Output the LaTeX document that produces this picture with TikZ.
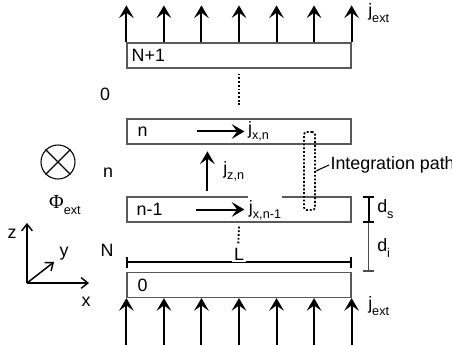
\documentclass[tikz,border=0pt]{standalone}
\usepackage{fontspec}
\setmainfont{Liberation Sans}
\newfontfamily\greekfont{Liberation Serif}
\usetikzlibrary{arrows.meta,positioning,calc}

% lowered index in small type
\newcommand{\lowtxt}[1]{\raisebox{-0.55ex}{\fontsize{9.5}{9.5}\selectfont #1}}

\tikzset{
  slab/.style={draw=black!65, line width=0.9pt, minimum width=168pt, minimum height=18.75pt, inner sep=0pt},
  curr/.style={line width=1.5pt, -{Stealth[length=9.5pt,width=11pt,inset=4pt]}},
  axis/.style={line width=1.1pt, -{Straight Barb[length=5pt,width=8pt]}},
  dotline/.style={line width=1.4pt, dash pattern=on 1.4pt off 1.4pt},
  dimbar/.style={line width=1.5pt, {Bar[width=8pt]}-{Bar[width=8pt]}},
  lbl/.style={inner sep=0pt}
}

\begin{document}
\begin{tikzpicture}[x=0.75pt,y=-0.75pt,font=\fontsize{13.4}{16}\selectfont]
\useasboundingbox (0,0) rectangle (452,345);

% layers
\node[slab] (top) at (239,55.5) {};
\node[slab] (sn) at (239,131.5) {};
\node[slab] (snm) at (239,209.5) {};
\node[slab] (bot) at (239,285) {};

\node[lbl, anchor=west] (ltop) at ($(top.west)+(5,0)$) {N+1};
\node[lbl, anchor=west] (ln) at ($(sn.west)+(11,0)$) {n};
\node[lbl, anchor=west] (lnm) at ($(snm.west)+(10,0)$) {n-1};
\node[lbl, anchor=west] (lbot) at ($(bot.west)+(11,0)$) {0};

% external current in and out
\foreach \k in {0,...,6} {
  \draw[curr] ($(top.north west)!\k/6!(top.north east)$) -- ++(0,-37);
  \draw[curr] ($(bot.south west)!\k/6!(bot.south east)$) ++(0,48) -- ++(0,-48);
}
\node[lbl, anchor=west] (jtop) at (368,13) {j\lowtxt{ext}};
\node[lbl, anchor=west] (jbot) at (368,306) {j\lowtxt{ext}};

% currents in the layers
\draw[curr] ($(sn.west)+(71,0)$) -- ++(47,0) node[lbl, anchor=west, xshift=2pt] (jxn) {j\lowtxt{x,n}};
\draw[curr] ($(snm.west)+(70,0)$) -- ++(48,0);
\node[lbl, anchor=base west, fill=white, text height=13.5pt, text depth=2.5pt, inner xsep=0.5pt] (jxnm) at (248,213) {j\lowtxt{x,n-1}};
\draw[curr] ($(snm.north west)+(81,-5)$) -- ++(0,-40);
\node[lbl, anchor=west] (jzn) at (223,171) {j\lowtxt{z,n}};

% layers left out
\draw[dotline] ($(top.south)+(0,5)$) -- ++(0,32);
\draw[dotline] ($(snm.south)+(0,4)$) -- ++(-0.7,17);

% length of the stack
\draw[dimbar] ($(bot.north west)+(0,-9.5)$) -- ($(bot.north east)+(0,-9.5)$);
\node[fill=white, inner sep=1.2pt] (len) at (239,254) {L};

% spacings
\coordinate (ds1) at ($(snm.north east)+(17,0)$);
\coordinate (ds2) at ($(snm.south east)+(17,0)$);
\coordinate (di2) at ($(bot.north east)+(17,0)$);
\draw[black!70, line width=1.2pt, -{Bar[width=8pt]}] (ds2) -- (di2);
\draw[dimbar] (ds1) -- (ds2);
\node[lbl, anchor=west] (lds) at (377,209) {d\lowtxt{s}};
\node[lbl, anchor=west] (ldi) at (377,248) {d\lowtxt{i}};

% integration path
\node[draw, dotline, rounded corners=2pt, minimum width=8.25pt, minimum height=58.5pt, inner sep=0pt] (ipath) at (309.5,171) {};
\draw[line width=0.8pt] (ipath.east) -- ++(13,-6) node[lbl, anchor=west, xshift=0.8pt] (ilab) {Integration path};

% layer counters
\node[lbl] (c0) at (105,94) {0};
\node[lbl] (cn) at (108,173) {n};
\node[lbl] (cN) at (107,250) {N};

% applied flux
\node[draw, circle, line width=0.8pt, minimum size=25.5pt, inner sep=0pt] (flux) at (58,162) {};
\draw[line width=0.8pt] (flux.north west) -- (flux.south east);
\draw[line width=0.8pt] (flux.north east) -- (flux.south west);
\node[lbl] (phi) at (65,205) {{\greekfont\fontsize{15}{16}\selectfont Φ}\lowtxt{ext}};

% axes
\coordinate (o) at (27,283);
\coordinate (ez) at (27,223);
\coordinate (ey) at (54,262);
\coordinate (ex) at (89,283);
\draw[axis] (o) -- (ez);
\draw[axis] (o) -- (ey);
\draw[axis] (o) -- (ex);
\node[lbl] (lz) at (12,234) {z};
\node[lbl] (ly) at (64,254) {y};
\node[lbl] (lx) at (86,302) {x};
\end{tikzpicture}
\end{document}
